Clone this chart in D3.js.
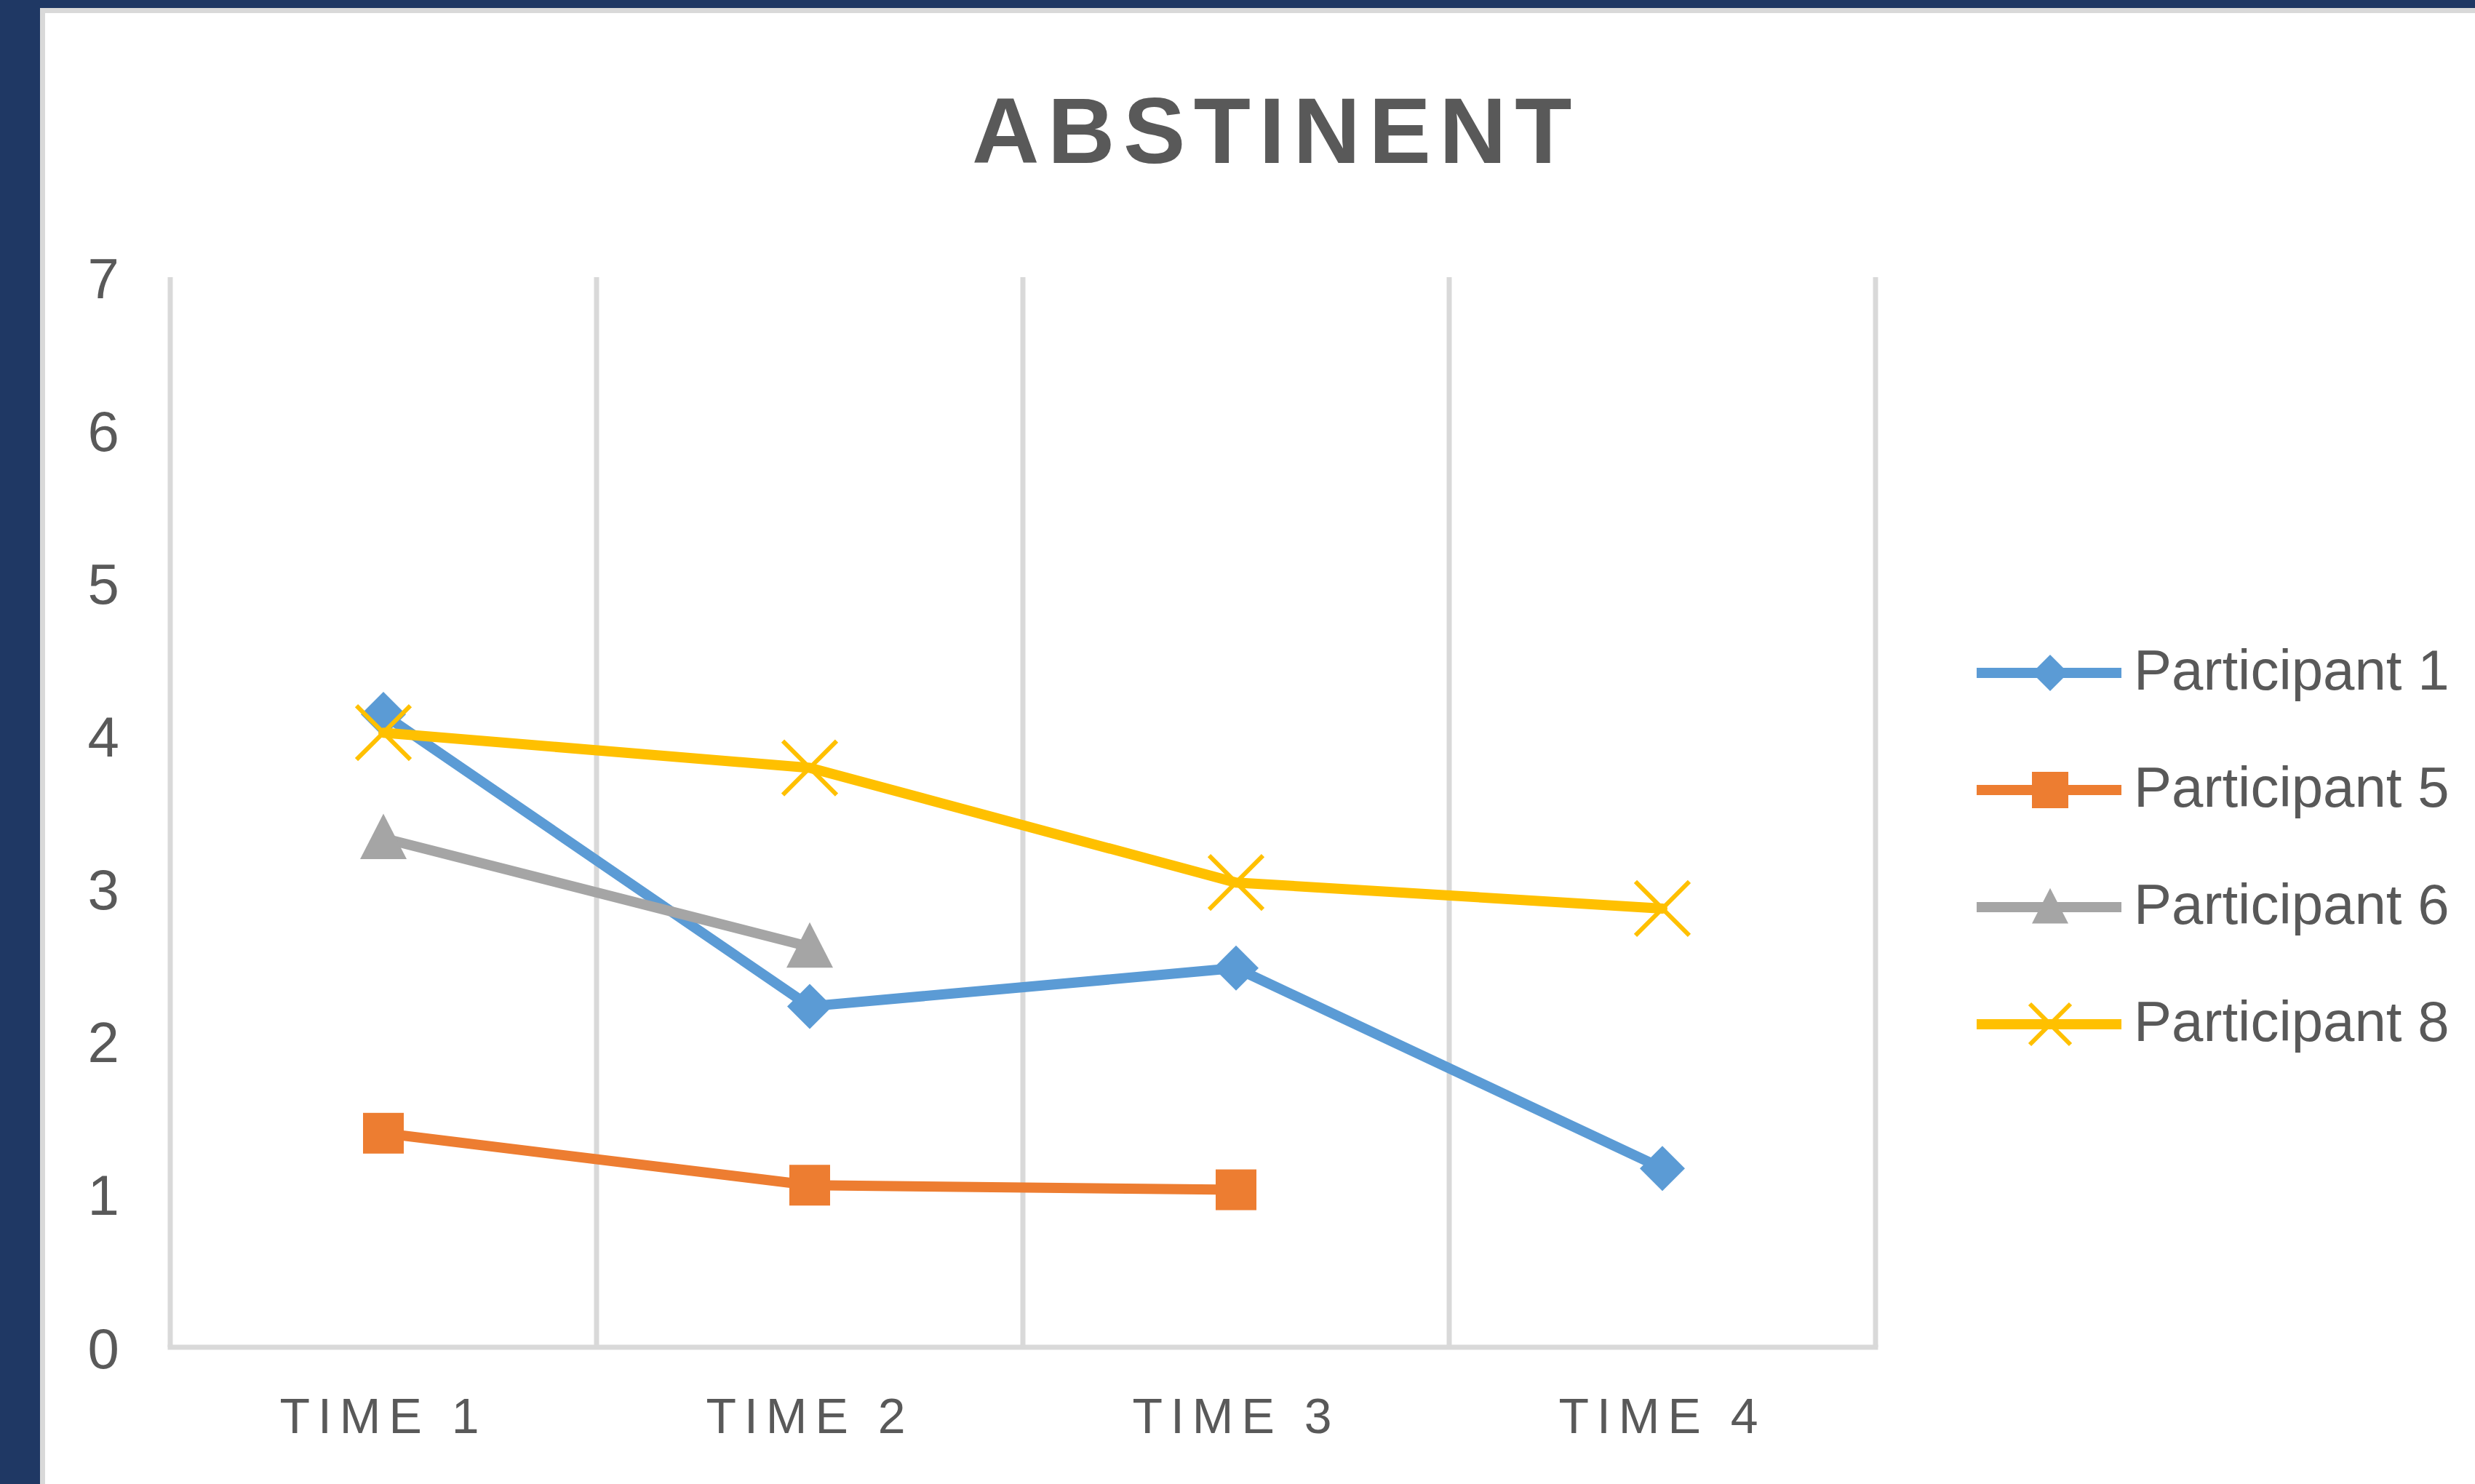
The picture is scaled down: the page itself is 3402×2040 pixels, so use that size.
<!DOCTYPE html>
<html>
<head>
<meta charset="utf-8">
<script src="https://cdn.jsdelivr.net/npm/d3@7"></script>
<style>
  html, body { margin: 0; padding: 0; background: #ffffff; }
  svg { display: block; }
  text { font-family: "Liberation Sans", Arial, sans-serif; fill: #595959; }
</style>
</head>
<body>
<svg id="chart" width="3402" height="2040"></svg>
<script>
// ---- data ----
const chartTitle = "ABSTINENT";
const categories = ["TIME 1", "TIME 2", "TIME 3", "TIME 4"];
const seriesNames = ["Participant 1", "Participant 5", "Participant 6", "Participant 8"];
const participant1 = [4.14, 2.23, 2.48, 1.17];
const participant5 = [1.40, 1.06, 1.03, null];
const participant6 = [3.33, 2.62, null, null];
const participant8 = [4.02, 3.79, 3.04, 2.87];
const yTicks = [0, 1, 2, 3, 4, 5, 6, 7];
const seriesColors = ["#5B9BD5", "#ED7D31", "#A5A5A5", "#FFC000"];
const markerTypes = ["diamond", "square", "triangle", "x"];

const seriesValues = [participant1, participant5, participant6, participant8];

// ---- layout ----
const W = 3402, H = 2040;
const plot = { left: 234, right: 2578, top: 381, bottom: 1852 };

const svg = d3.select("#chart");

// frame
svg.append("rect").attr("x", 0).attr("y", 0).attr("width", W).attr("height", H).attr("fill", "#1F3864");
svg.append("rect").attr("x", 55).attr("y", 11).attr("width", W - 55).attr("height", H - 11).attr("fill", "#D9D9D9");
svg.append("rect").attr("x", 62).attr("y", 18).attr("width", W - 62).attr("height", H - 18).attr("fill", "#FFFFFF");

const x = d3.scaleBand().domain(categories).range([plot.left, plot.right]).padding(0);
const y = d3.scaleLinear().domain([0, 7]).range([plot.bottom, plot.top]);

// vertical gridlines at category boundaries
const boundaries = categories.map(c => x(c)).concat([x(categories[categories.length - 1]) + x.bandwidth()]);
svg.append("g").selectAll("line").data(boundaries).join("line")
  .attr("x1", d => d).attr("x2", d => d)
  .attr("y1", y(7)).attr("y2", y(0))
  .attr("stroke", "#D9D9D9").attr("stroke-width", 7);

// bottom axis line
svg.append("line")
  .attr("x1", plot.left - 3.5).attr("x2", plot.right + 3.5)
  .attr("y1", y(0)).attr("y2", y(0))
  .attr("stroke", "#D9D9D9").attr("stroke-width", 7);

// y axis labels
const yAxis = d3.axisLeft(y).tickValues(yTicks).tickSize(0).tickPadding(0).tickFormat(d3.format("d"));
const gy = svg.append("g").attr("transform", "translate(164,0)").call(yAxis);
gy.select(".domain").remove();
gy.selectAll("text")
  .attr("font-family", "Liberation Sans, Arial, sans-serif")
  .attr("font-size", 78).attr("fill", "#595959")
  .attr("dy", "0.36em").attr("x", 0);

// x axis labels
const xAxis = d3.axisBottom(x).tickSize(0).tickPadding(0);
const gx = svg.append("g").attr("transform", "translate(0,1970)").call(xAxis);
gx.select(".domain").remove();
gx.selectAll("text")
  .attr("font-family", "Liberation Sans, Arial, sans-serif")
  .attr("font-size", 68).attr("fill", "#595959")
  .attr("letter-spacing", 11)
  .attr("dy", 0).attr("y", 0)
  .attr("text-anchor", "middle");

// title
svg.append("text")
  .attr("x", 1754).attr("y", 224)
  .attr("text-anchor", "middle")
  .attr("font-size", 128).attr("font-weight", "bold")
  .attr("letter-spacing", 11.5)
  .attr("fill", "#595959")
  .text(chartTitle);

// marker drawing
function drawMarker(g, type, color, cx, cy, s) {
  if (type === "diamond") {
    const r = s / 2;
    g.append("path").attr("d", `M${cx},${cy - r}L${cx + r},${cy}L${cx},${cy + r}L${cx - r},${cy}Z`).attr("fill", color);
  } else if (type === "square") {
    g.append("rect").attr("x", cx - s / 2).attr("y", cy - s / 2).attr("width", s).attr("height", s).attr("fill", color);
  } else if (type === "triangle") {
    const r = s / 2;
    g.append("path").attr("d", `M${cx},${cy - r * 1.05}L${cx + r},${cy + r * 0.9}L${cx - r},${cy + r * 0.9}Z`).attr("fill", color);
  } else if (type === "x") {
    const r = s / 2;
    g.append("path").attr("d", `M${cx - r},${cy - r}L${cx + r},${cy + r}M${cx - r},${cy + r}L${cx + r},${cy - r}`)
      .attr("stroke", color).attr("stroke-width", 6).attr("fill", "none");
  }
}
const markerSizes = { diamond: 62, square: 56, triangle: 64, x: 74 };
const legendMarkerSizes = { diamond: 50, square: 50, triangle: 50, x: 56 };

const line = d3.line()
  .defined(d => d.v !== null)
  .x(d => x(d.c) + x.bandwidth() / 2)
  .y(d => y(d.v));

seriesValues.forEach((vals, i) => {
  const pts = categories.map((c, j) => ({ c, v: vals[j] }));
  const g = svg.append("g");
  g.append("path").datum(pts).attr("d", line)
    .attr("fill", "none").attr("stroke", seriesColors[i]).attr("stroke-width", 14)
    .attr("stroke-linejoin", "round").attr("stroke-linecap", "round");
  pts.filter(p => p.v !== null).forEach(p => {
    drawMarker(g, markerTypes[i], seriesColors[i], x(p.c) + x.bandwidth() / 2, y(p.v), markerSizes[markerTypes[i]]);
  });
});

// legend
const legendY = d3.scalePoint().domain(seriesNames).range([925, 1408]);
seriesNames.forEach((name, i) => {
  const ly = legendY(name);
  const g = svg.append("g");
  g.append("line").attr("x1", 2717).attr("x2", 2916).attr("y1", ly).attr("y2", ly)
    .attr("stroke", seriesColors[i]).attr("stroke-width", 14);
  drawMarker(g, markerTypes[i], seriesColors[i], 2818, ly, legendMarkerSizes[markerTypes[i]]);
  g.append("text").attr("x", 2933).attr("y", ly + 23)
    .attr("font-size", 78).attr("fill", "#595959").text(name);
});
</script>
</body>
</html>
